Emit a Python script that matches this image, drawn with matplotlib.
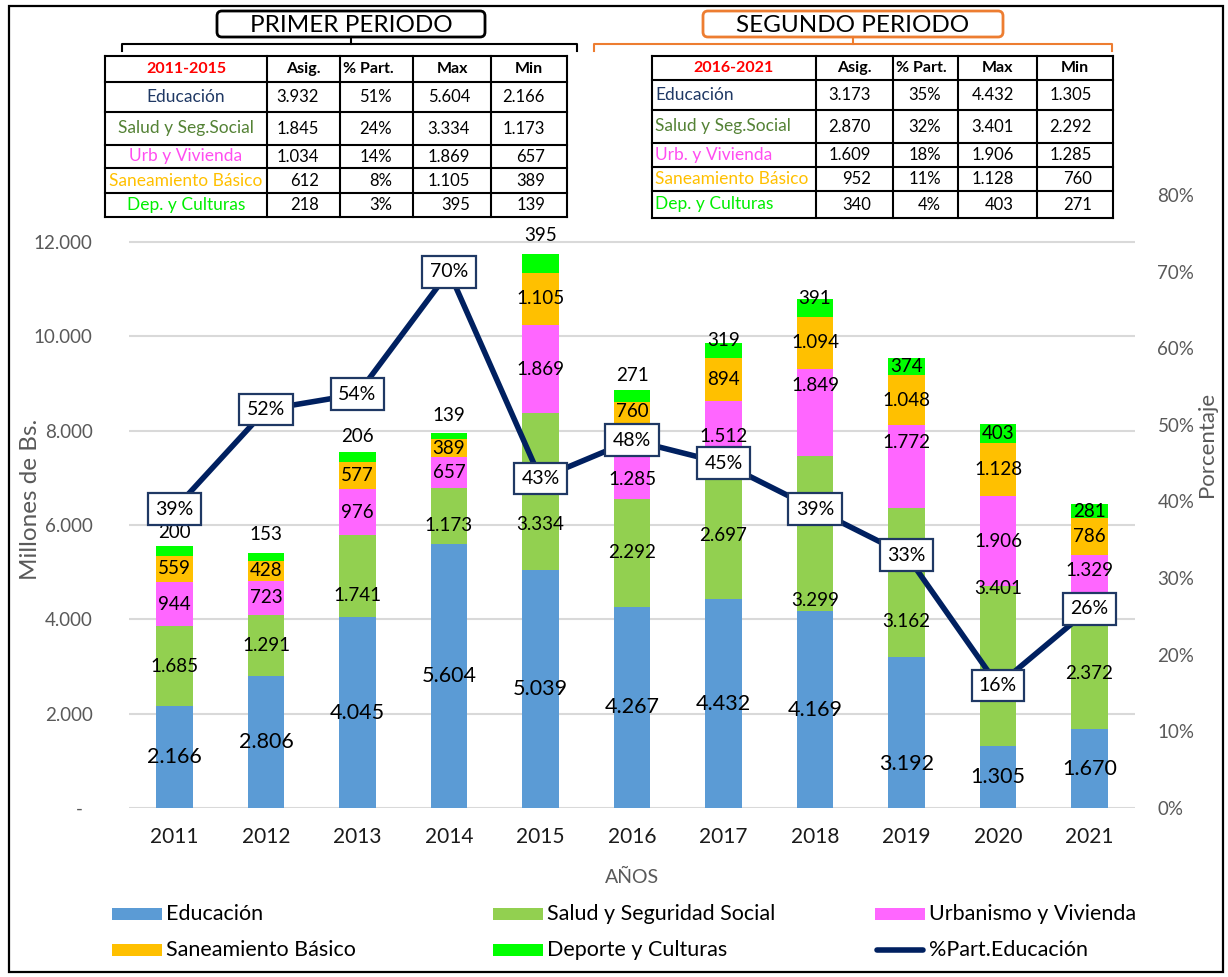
import matplotlib.pyplot as plt
from matplotlib.patches import Rectangle, FancyBboxPatch
import numpy as np

plt.rcParams['font.family'] = ['Lato', 'DejaVu Sans']

years = ['2011', '2012', '2013', '2014', '2015', '2016', '2017', '2018', '2019', '2020', '2021']
educacion = [2166, 2806, 4045, 5604, 5039, 4267, 4432, 4169, 3192, 1305, 1670]
salud = [1685, 1291, 1741, 1173, 3334, 2292, 2697, 3299, 3162, 3401, 2372]
urbanismo = [944, 723, 976, 657, 1869, 1285, 1512, 1849, 1772, 1906, 1329]
saneamiento = [559, 428, 577, 389, 1105, 760, 894, 1094, 1048, 1128, 786]
deporte = [200, 153, 206, 139, 395, 271, 319, 391, 374, 403, 281]
part_educacion = [39, 52, 54, 70, 43, 48, 45, 39, 33, 16, 26]

series_names = ['Educación', 'Salud y Seguridad Social', 'Urbanismo y Vivienda',
                'Saneamiento Básico', 'Deporte y Culturas']
line_name = '%Part.Educación'
colors = ['#5B9BD5', '#92D050', '#FF66FF', '#FFC000', '#00FF00']
navy = '#002060'

# summary tables
table_head = ['Asig.', '% Part.', 'Max', 'Min']
period1 = '2011-2015'
names1 = ['Educación', 'Salud y Seg.Social', 'Urb y Vivienda', 'Saneamiento Básico', 'Dep. y Culturas']
asig1 = ['3.932', '1.845', '1.034', '612', '218']
part1 = ['51%', '24%', '14%', '8%', '3%']
max1 = ['5.604', '3.334', '1.869', '1.105', '395']
min1 = ['2.166', '1.173', '657', '389', '139']
period2 = '2016-2021'
names2 = ['Educación', 'Salud y Seg.Social', 'Urb. y Vivienda', 'Saneamiento Básico', 'Dep. y Culturas']
asig2 = ['3.173', '2.870', '1.609', '952', '340']
part2 = ['35%', '32%', '18%', '11%', '4%']
max2 = ['4.432', '3.401', '1.906', '1.128', '403']
min2 = ['1.305', '2.292', '1.285', '760', '271']
name_colors = ['#1F3864', '#548235', '#FF4DF0', '#FFC000', '#00EE00']


def fmt(v):
    return f'{v:,}'.replace(',', '.')


fig = plt.figure(figsize=(12.28, 9.77), dpi=100)
W, H = 1228, 977
ax = fig.add_axes([128.75 / W, 1 - 808 / H, 1006.5 / W, 613 / H])

x = np.arange(len(years))
stack = [educacion, salud, urbanismo, saneamiento, deporte]
bottom = np.zeros(len(years))
# label nudges in pixels (positive = down), to mimic the hand-placed labels
nudge = {(0, 8): 31, (1, 2): 19, (1, 3): 9, (1, 4): 33, (1, 7): 67, (1, 8): 39, (1, 9): -78,
         (2, 5): 11, (2, 7): -27, (2, 8): -24, (2, 10): -16, (3, 5): -9,
         (4, 0): -18, (4, 1): -22, (4, 2): -21, (4, 3): -20, (4, 4): -28, (4, 5): -20,
         (4, 6): -10, (4, 7): -9}
for s, vals in enumerate(stack):
    ax.bar(x, vals, 0.4, bottom=bottom, color=colors[s], zorder=2)
    for i, v in enumerate(vals):
        ax.annotate(fmt(v), (x[i], bottom[i] + v / 2), xytext=(0, -nudge.get((s, i), 0)),
                    textcoords='offset pixels', ha='center', va='center',
                    fontsize=15.5 if s == 0 else 13.5, color='black', zorder=3)
    bottom += np.array(vals)

ax.set_xlim(-0.5, len(years) - 0.5)
ax.set_ylim(0, 13000)
ax.set_yticks(range(0, 12001, 2000))
ax.set_yticklabels(['-  '] + [fmt(v) for v in range(2000, 12001, 2000)])
ax.set_xticks(x)
ax.set_xticklabels(years)
ax.grid(axis='y', color='#D9D9D9', lw=1.5, zorder=0)
ax.set_axisbelow(True)
for sp in ax.spines.values():
    sp.set_visible(False)
ax.tick_params(axis='y', length=0, pad=26, labelsize=13.5, labelcolor='#595959')
ax.tick_params(axis='x', length=0, pad=14, labelsize=15, labelcolor='#1a1a1a')

ax2 = ax.twinx()
ax2.plot(x, part_educacion, color=navy, lw=4, zorder=3)
for i, p in enumerate(part_educacion):
    ax2.text(x[i], p, f'{p}%', ha='center', va='center', fontsize=14, zorder=5,
             bbox=dict(boxstyle='square,pad=0.38', fc='white', ec='#1F3864', lw=1.6))
ax2.set_ylim(0, 80)
ax2.set_yticks(range(0, 81, 10))
ax2.set_yticklabels([f'{v}%' for v in range(0, 81, 10)])
for sp in ax2.spines.values():
    sp.set_visible(False)
ax2.tick_params(axis='y', length=0, pad=16, labelsize=13.5, labelcolor='#595959')

fig.text(31 / W, 1 - 499 / H, 'Millones de Bs.', rotation=90, ha='center', va='center',
         fontsize=17.5, color='#595959')
fig.text(1207 / W, 1 - 444 / H, 'Porcentaje', rotation=90, ha='center', va='center',
         fontsize=16, color='#595959')
fig.text(632 / W, 1 - 877 / H, 'AÑOS', ha='center', va='center', fontsize=14, color='#595959')

# overlay in pixel coordinates for tables, titles, legend and frame
ov = fig.add_axes([0, 0, 1, 1])
ov.set_xlim(0, W)
ov.set_ylim(H, 0)
ov.axis('off')

ov.add_patch(Rectangle((9, 6), 1214, 966, fill=False, ec='black', lw=1.6))


def draw_table(xs, ys, period, names, cols, name_left, pads):
    for yy in ys:
        ov.plot([xs[0], xs[-1]], [yy, yy], color='black', lw=1.5, solid_capstyle='projecting')
    for xx in xs:
        ov.plot([xx, xx], [ys[0], ys[-1]], color='black', lw=1.5, solid_capstyle='projecting')
    yc = [(ys[k] + ys[k + 1]) / 2 for k in range(len(ys) - 1)]
    ov.text((xs[0] + xs[1]) / 2, yc[0], period, ha='center', va='center', fontsize=11.5,
            fontweight='bold', color='#FF0000')
    for c, h in enumerate(table_head):
        if h.startswith('%'):
            ov.text(xs[c + 1] + 3, yc[0], h, ha='left', va='center', fontsize=11.5, fontweight='bold')
        else:
            ov.text((xs[c + 1] + xs[c + 2]) / 2, yc[0], h, ha='center', va='center',
                    fontsize=11.5, fontweight='bold')
    for r, nm in enumerate(names):
        if name_left:
            ov.text(xs[0] + 3, yc[r + 1], nm, ha='left', va='center', fontsize=12.5,
                    color=name_colors[r])
        else:
            ov.text((xs[0] + xs[1]) / 2, yc[r + 1], nm, ha='center', va='center',
                    fontsize=12.5, color=name_colors[r])
        for c, col in enumerate(cols):
            ov.text(xs[c + 2] - pads[c], yc[r + 1], col[r], ha='right', va='center', fontsize=12)


draw_table([105, 267, 340, 413, 491, 567], [56, 82, 112, 145, 168, 193, 217],
           period1, names1, [asig1, part1, max1, min1], False, [21, 21, 21, 22])
draw_table([652, 816, 893, 958, 1037, 1113], [56, 80, 110, 143, 167, 191, 218],
           period2, names2, [asig2, part2, max2, min2], True, [22, 17, 23, 21])


def period_title(x0, x1, bx0, bx1, text, color):
    ov.add_patch(FancyBboxPatch((bx0, 11), bx1 - bx0, 26,
                                boxstyle='round,pad=0,rounding_size=5',
                                fc='white', ec=color, lw=2))
    ov.text((bx0 + bx1) / 2, 25, text, ha='center', va='center', fontsize=17.5, color='black')
    xm = (bx0 + bx1) / 2
    ov.plot([x0, x0, x1, x1], [51, 44, 44, 51], color=color, lw=1.5)
    ov.plot([xm, xm], [44, 37], color=color, lw=1.5)


period_title(122, 577, 217, 485, 'PRIMER PERIODO', 'black')
period_title(594, 1112, 703, 1003, 'SEGUNDO PERIODO', '#ED7D31')

# legend
leg_cols = [112, 493, 875]
leg_rows = [914, 950]
order = [(series_names[0], colors[0]), (series_names[1], colors[1]), (series_names[2], colors[2]),
         (series_names[3], colors[3]), (series_names[4], colors[4]), (line_name, None)]
for k, (lab, col) in enumerate(order):
    lx = leg_cols[k % 3]
    ly = leg_rows[k // 3]
    if col is None:
        ov.plot([lx + 2, lx + 48], [ly, ly], color=navy, lw=4, solid_capstyle='round')
    else:
        ov.add_patch(Rectangle((lx, ly - 6), 50, 12, color=col, lw=0))
    ov.text(lx + 54, ly, lab, ha='left', va='center', fontsize=15.5, color='black')

fig.savefig('out.png', dpi=100)
